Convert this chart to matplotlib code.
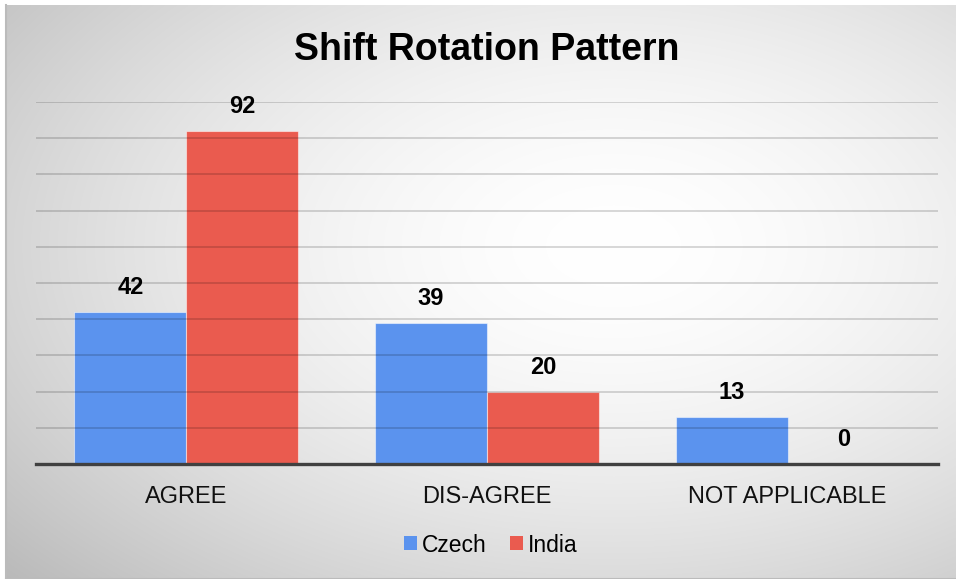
import numpy as np
import matplotlib
matplotlib.use("Agg")
import matplotlib.pyplot as plt
from matplotlib.patches import Patch

categories = ["AGREE", "DIS-AGREE", "NOT APPLICABLE"]
series_names = ["Czech", "India"]
czech = [42, 39, 13]
india = [92, 20, 0]
y_ticks = [0, 10, 20, 30, 40, 50, 60, 70, 80, 90, 100]
title = "Shift Rotation Pattern"

colors = ["#5B93EE", "#EA5B4F"]

plt.rcParams['font.family'] = ['Liberation Sans', 'DejaVu Sans']

W, H = 956, 579
fig = plt.figure(figsize=(W / 100, H / 100), dpi=100)
fig.patch.set_facecolor("white")

# background radial gradient
bg = fig.add_axes([6 / W, 0, 1 - 6 / W, 1 - 5 / H])
bg.set_axis_off()
yy, xx = np.mgrid[0:1:300j, 0:1:500j]
cx, cy = 0.64, 0.42
r = np.sqrt((xx - cx) ** 2 + (yy - cy) ** 2)
val = np.clip(1 - 0.35 * r ** 1.7, 0, 1)
img = np.dstack([val, val, val])
bg.imshow(img, aspect="auto", extent=[0, 1, 1, 0], interpolation="bilinear")
bg.plot([0, 1], [0.0005, 0.0005], color="#BBBBBB", lw=1.5, transform=bg.transAxes, clip_on=False)
bg.plot([0.0005, 0.0005], [0, 1], color="#BBBBBB", lw=1.5, transform=bg.transAxes, clip_on=False)

left, right = 36, 938
base, top = 464, 102
ax = fig.add_axes([left / W, 1 - base / H, (right - left) / W, (base - top) / H])
ax.patch.set_alpha(0)

x = np.arange(len(categories))
bw = 0.3725
b1 = ax.bar(x - bw / 2, czech, bw, color=colors[0], edgecolor=(1, 1, 1, 0.5), linewidth=0.8, zorder=2)
b2 = ax.bar(x + bw / 2, india, bw, color=colors[1], edgecolor=(1, 1, 1, 0.5), linewidth=0.8, zorder=2)

ax.set_xlim(-0.5, len(categories) - 0.5)
ax.set_ylim(0, 100)
ax.set_yticks(y_ticks)
ax.yaxis.grid(True, color="black", alpha=0.18, linewidth=1.2, zorder=3)
ax.set_axisbelow(False)
for s in ["top", "right", "left"]:
    ax.spines[s].set_visible(False)
ax.spines["bottom"].set_color("#404040")
ax.spines["bottom"].set_linewidth(2.4)
ax.spines["bottom"].set_zorder(4)
ax.tick_params(axis="y", left=False, labelleft=False)
ax.tick_params(axis="x", bottom=False, pad=12)
ax.set_xticks(x)
ax.set_xticklabels(categories, fontsize=17, color="#111111")

for bars, vals in ((b1, czech), (b2, india)):
    for rect, v in zip(bars, vals):
        ax.annotate(str(v), (rect.get_x() + rect.get_width() / 2, v),
                    xytext=(0, 17.5), textcoords="offset points",
                    ha="center", va="center", fontsize=17, fontweight="bold",
                    color="black", zorder=5)

fig.text(487 / W, 1 - 50 / H, title, ha="center", va="center",
         fontsize=27, fontweight="bold", color="black")

handles = [Patch(facecolor=c, edgecolor="none") for c in colors]
fig.legend(handles, series_names, loc="center", bbox_to_anchor=(491 / W, 1 - 545 / H),
           ncol=2, frameon=False, fontsize=16.5, handlelength=0.55, handleheight=0.55,
           handletextpad=0.25, columnspacing=1.0)

fig.savefig("out.png", dpi=100)
